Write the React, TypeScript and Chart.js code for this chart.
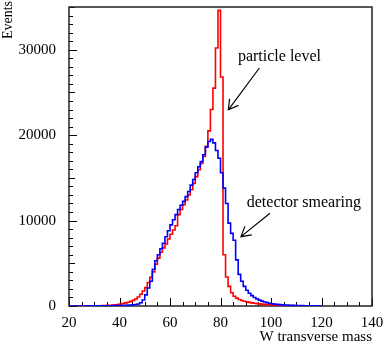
import React, { useEffect, useRef } from 'react';
import { Chart, registerables } from 'chart.js';

Chart.register(...registerables);

// ---- data: histogram bins of width 1 starting at 20 (bin i = [20+i, 21+i)) ----
const BIN_START = 20;
const BIN_WIDTH = 1;

const particleLevel = [
  5, 6, 7, 8, 10, 12, 14, 16, 19, 22,
  26, 30, 36, 44, 55, 70, 90, 115, 145, 180,
  230, 290, 360, 440, 540, 660, 820, 1050, 1380, 1750,
  2150, 2750, 3350, 4000, 4900, 5600, 6300, 6800, 7250, 7850,
  8400, 8900, 9400, 10700, 11300, 11850, 12400, 13000, 13600, 14350,
  15150, 15950, 16700, 17500, 18700, 20500, 23000, 25500, 30200, 34600,
  26800, 6000, 3400, 2300, 1550, 1150, 920, 760, 640, 550,
  480, 420, 370, 320, 280, 245, 215, 190, 165, 145,
  128, 112, 98, 86, 76, 67, 59, 52, 46, 41,
  36, 32, 28, 25, 22, 19, 17, 15, 13, 12,
];

const detectorSmearing = [
  3, 4, 4, 5, 6, 7, 8, 9, 10, 12,
  14, 16, 19, 22, 26, 30, 35, 41, 48, 56,
  65, 75, 88, 102, 120, 145, 180, 240, 380, 700,
  1300, 2100, 2900, 4300, 5300, 6000, 6700, 7350, 8100, 8800,
  9500, 10100, 10700, 11300, 11800, 12250, 12800, 13400, 14150, 14800,
  15600, 16300, 16900, 17700, 18600, 19250, 19500, 19100, 18200, 17300,
  15600, 13800, 12000, 9700, 8500, 7700, 5400, 3700, 2900, 2300,
  1850, 1500, 1220, 1000, 830, 690, 570, 470, 390, 325,
  270, 225, 190, 160, 135, 115, 98, 84, 72, 62,
  53, 46, 40, 35, 30, 26, 23, 20, 17, 15,
];

const xTicks = [20, 40, 60, 80, 100, 120, 140];
const yTicks = [0, 10000, 20000, 30000];
const X_MIN = 20;
const X_MAX = 140;
const Y_MIN = 0;
const Y_MAX = 35000;
const X_MINOR_STEP = 5;
const Y_MINOR_STEP = 1000;

const xTitle = 'W transverse mass';
const yTitle = 'Events';

// annotations in data coordinates
const labels = [
  { text: 'particle level', x: 86.9, y: 29180 },
  { text: 'detector smearing', x: 90.4, y: 12070 },
];
const arrows = [
  { fromX: 95.4, fromY: 27860, toX: 83.1, toY: 22970 },
  { fromX: 99.6, fromY: 10860, toX: 88.1, toY: 8120 },
];

const SERIF = '"Liberation Serif", "Times New Roman", serif';

function toSteps(values: number[]) {
  const pts = values.map((v, i) => ({ x: BIN_START + i * BIN_WIDTH, y: v }));
  pts.push({ x: BIN_START + values.length * BIN_WIDTH, y: values[values.length - 1] });
  return pts;
}

const framePlugin = {
  id: 'rootFrame',
  beforeDatasetsDraw(chart: any) {
    const { ctx, chartArea: a, scales } = chart;
    const xs = scales.x;
    const ys = scales.y;
    ctx.save();
    ctx.strokeStyle = '#000';
    ctx.lineWidth = 1;
    ctx.beginPath();
    for (let v = X_MIN; v <= X_MAX + 1e-6; v += X_MINOR_STEP) {
      const px = Math.round(xs.getPixelForValue(v)) + 0.5;
      const len = v % 20 === 0 ? 8 : 4;
      ctx.moveTo(px, a.bottom);
      ctx.lineTo(px, a.bottom - len);
    }
    for (let v = Y_MIN; v <= Y_MAX + 1e-6; v += Y_MINOR_STEP) {
      const py = Math.round(ys.getPixelForValue(v)) + 0.5;
      const len = v % 10000 === 0 ? 8 : v % 5000 === 0 ? 6 : 4;
      ctx.moveTo(a.left, py);
      ctx.lineTo(a.left + len, py);
    }
    ctx.stroke();
    ctx.strokeStyle = '#222';
    ctx.lineWidth = 1.5;
    ctx.strokeRect(a.left, a.top, a.right - a.left, a.bottom - a.top);
    ctx.restore();
  },
  afterDatasetsDraw(chart: any) {
    const { ctx, scales } = chart;
    const xs = scales.x;
    const ys = scales.y;
    ctx.save();
    ctx.fillStyle = '#000';
    ctx.font = `16px ${SERIF}`;
    ctx.textAlign = 'left';
    ctx.textBaseline = 'middle';
    for (const l of labels) {
      ctx.fillText(l.text, xs.getPixelForValue(l.x), ys.getPixelForValue(l.y));
    }
    ctx.strokeStyle = '#000';
    ctx.lineWidth = 1.2;
    for (const ar of arrows) {
      const x0 = xs.getPixelForValue(ar.fromX);
      const y0 = ys.getPixelForValue(ar.fromY);
      const x1 = xs.getPixelForValue(ar.toX);
      const y1 = ys.getPixelForValue(ar.toY);
      const ang = Math.atan2(y0 - y1, x0 - x1);
      const head = 11;
      const spread = Math.PI / 6;
      ctx.beginPath();
      ctx.moveTo(x0, y0);
      ctx.lineTo(x1, y1);
      ctx.moveTo(x1 + head * Math.cos(ang - spread), y1 + head * Math.sin(ang - spread));
      ctx.lineTo(x1, y1);
      ctx.lineTo(x1 + head * Math.cos(ang + spread), y1 + head * Math.sin(ang + spread));
      ctx.stroke();
    }
    // y axis title (rotated, at the top like ROOT)
    ctx.font = `14px ${SERIF}`;
    ctx.translate(11.5, 0);
    ctx.rotate(-Math.PI / 2);
    ctx.textAlign = 'right';
    ctx.textBaseline = 'alphabetic';
    ctx.fillText(yTitle, -1, 0);
    ctx.restore();
  },
};

export default function App() {
  const ref = useRef<HTMLCanvasElement | null>(null);
  useEffect(() => {
    if (!ref.current) return;
    const font = { family: SERIF, size: 15 };
    const chart = new Chart(ref.current, {
      type: 'line',
      data: {
        datasets: [
          {
            label: 'detector smearing',
            data: toSteps(detectorSmearing),
            borderColor: '#0000ff',
            borderWidth: 1.6,
            stepped: true,
            pointRadius: 0,
            fill: false,
          },
          {
            label: 'particle level',
            data: toSteps(particleLevel),
            borderColor: '#ff0000',
            borderWidth: 1.6,
            stepped: true,
            pointRadius: 0,
            fill: false,
          },
        ],
      },
      options: {
        animation: false,
        responsive: false,
        events: [],
        layout: { padding: { top: 7, right: 12, left: 0, bottom: 0 } },
        plugins: { legend: { display: false }, tooltip: { enabled: false } },
        scales: {
          x: {
            type: 'linear',
            min: X_MIN,
            max: X_MAX,
            afterBuildTicks: (s: any) => {
              s.ticks = xTicks.map((v) => ({ value: v }));
            },
            ticks: {
              font,
              color: '#000',
              padding: 8,
              maxRotation: 0,
              autoSkip: false,
              callback: (v: any) => String(v),
            },
            grid: { display: false, drawTicks: false },
            border: { display: false },
            title: { display: true, text: xTitle, align: 'end', font, color: '#000', padding: 0 },
            afterFit: (s: any) => {
              s.height = 40;
              s.paddingLeft = 0;
              s.paddingRight = 0;
            },
          },
          y: {
            type: 'linear',
            min: Y_MIN,
            max: Y_MAX,
            afterBuildTicks: (s: any) => {
              s.ticks = yTicks.map((v) => ({ value: v }));
            },
            ticks: {
              font,
              color: '#000',
              padding: 13,
              autoSkip: false,
              callback: (v: any) => String(v),
            },
            grid: { display: false, drawTicks: false },
            border: { display: false },
            afterFit: (s: any) => {
              s.width = 69;
              s.paddingTop = 0;
              s.paddingBottom = 0;
            },
          },
        },
      },
      plugins: [framePlugin],
    } as any);
    return () => chart.destroy();
  }, []);
  return (
    <div style={{ position: 'fixed', left: 0, top: 0, width: 384, height: 346, background: '#fff' }}>
      <canvas ref={ref} width={384} height={346} style={{ display: 'block', width: 384, height: 346 }} />
    </div>
  );
}
